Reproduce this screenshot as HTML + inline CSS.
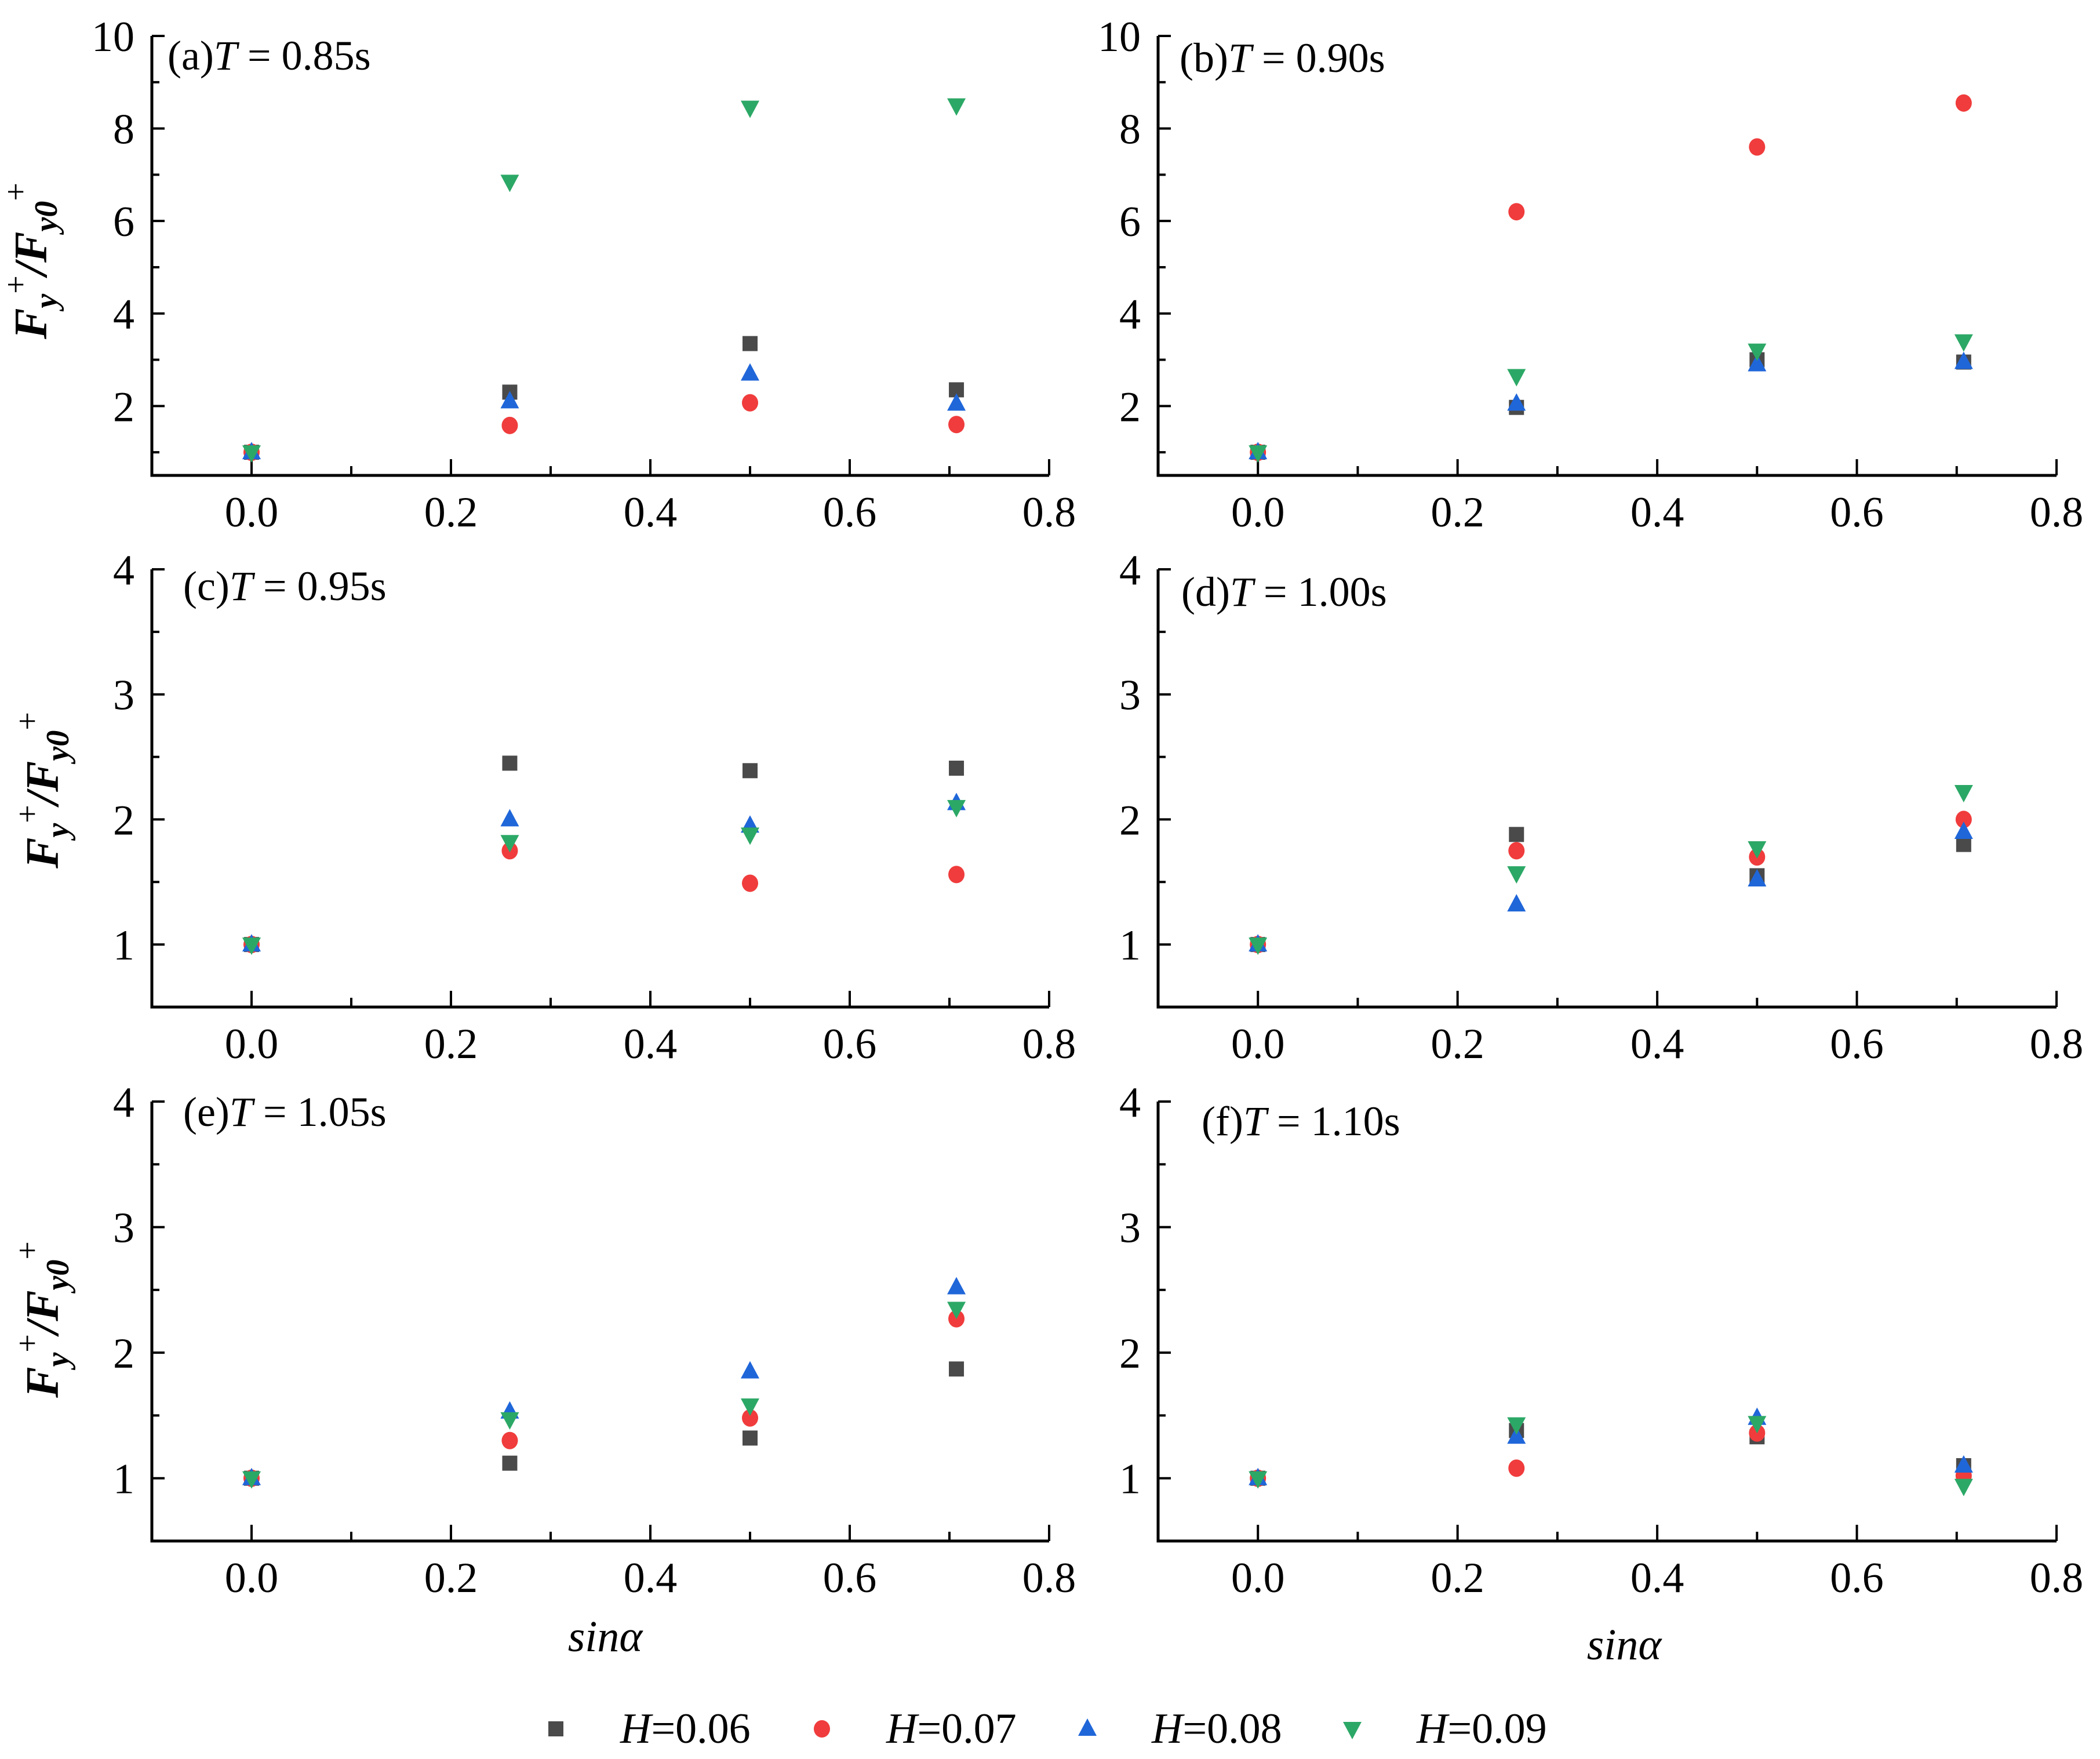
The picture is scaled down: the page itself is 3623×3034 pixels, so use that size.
<!DOCTYPE html>
<html><head><meta charset="utf-8"><style>
html,body{margin:0;padding:0;background:#fff;}
svg{display:block;}
text{font-family:"Liberation Serif","Times New Roman",serif;}
</style></head><body>
<svg id="c" width="3623" height="3034" viewBox="0 0 3623 3034" xmlns="http://www.w3.org/2000/svg"></svg>
<script>
const xVals = [0, 0.259, 0.5, 0.707];
const seriesNames = ["H=0.06","H=0.07","H=0.08","H=0.09"];
const panelTitles = ["(a)","(b)","(c)","(d)","(e)","(f)"];
const panelPeriods = ["0.85s","0.90s","0.95s","1.00s","1.05s","1.10s"];
const xTicks = [0, 0.2, 0.4, 0.6, 0.8];
const xTickLabels = ["0.0","0.2","0.4","0.6","0.8"];
const yTicksTop = [2,4,6,8,10];
const yTicksLow = [1,2,3,4];
const pA = [[1,2.3,3.35,2.35],[1,1.58,2.07,1.6],[1,2.1,2.7,2.05],[1,6.85,8.45,8.5]];
const pB = [[1,1.97,3.0,2.95],[1,6.2,7.6,8.55],[1,2.05,2.9,2.95],[1,2.65,3.2,3.4]];
const pC = [[1,2.45,2.39,2.41],[1,1.75,1.49,1.56],[1,2.0,1.95,2.13],[1,1.82,1.88,2.1]];
const pD = [[1,1.88,1.55,1.8],[1,1.75,1.7,2.0],[1,1.32,1.52,1.9],[1,1.57,1.77,2.22]];
const pE = [[1,1.12,1.32,1.87],[1,1.3,1.48,2.27],[1,1.53,1.85,2.52],[1,1.47,1.58,2.35]];
const pF = [[1,1.38,1.33,1.1],[1,1.08,1.36,1.02],[1,1.33,1.48,1.1],[1,1.43,1.44,0.94]];
const panelData = [pA,pB,pC,pD,pE,pF];

const NS="http://www.w3.org/2000/svg";
const svg=document.getElementById('c');
const colors=["#4a4a4a","#f03c3c","#1f66d9","#2ca866"];
function mk(tag,attrs,parent){const e=document.createElementNS(NS,tag);for(const k in attrs)e.setAttribute(k,attrs[k]);(parent||svg).appendChild(e);return e;}
function marker(g,type,cx,cy){
  let e;
  if(type===0){e=mk('rect',{x:cx-13,y:cy-13,width:26,height:26,fill:colors[0]},g);}
  else if(type===1){e=mk('ellipse',{cx:cx,cy:cy,rx:14,ry:15,fill:colors[1]},g);}
  else if(type===2){e=mk('polygon',{points:`${cx},${cy-18} ${cx+16},${cy+12} ${cx-16},${cy+12}`,fill:colors[2]},g);}
  else {e=mk('polygon',{points:`${cx},${cy+18} ${cx+16},${cy-12} ${cx-16},${cy-12}`,fill:colors[3]},g);}
  return e;
}
const cols=[{l:262,r:1810},{l:1998,r:3548}];
const rows=[{t:62,b:820,ymax:10,ymin:0.5,ticks:yTicksTop,minor:2},{t:982,b:1737,ymax:4,ymin:0.5,ticks:yTicksLow,minor:1},{t:1900,b:2658,ymax:4,ymin:0.5,ticks:yTicksLow,minor:1}];
const titlePos=[[289,120],[2035,124],[316,1035],[2038,1045],[316,1942],[2073,1958]];

panelData.forEach((data,pi)=>{
  const c=cols[pi%2], r=rows[Math.floor(pi/2)];
  const g=mk('g',{});
  
  
  const X=v=>c.l+(v+0.1)/0.9*(c.r-c.l);
  const Y=v=>r.b-(v-r.ymin)/(r.ymax-r.ymin)*(r.b-r.t);
  const ax=mk('path',{d:`M${c.l},${r.t} L${c.l},${r.b} L${c.r},${r.b}`,stroke:'#000','stroke-width':5,fill:'none'},g);
  
  for(let i=-1;i<=8;i++){
    const v=i/10;
    const major=(i%2===0);
    mk('line',{x1:X(v),x2:X(v),y1:r.b,y2:r.b-(major?28:16),stroke:'#000','stroke-width':4},g);
  }
  xTicks.forEach((v,i)=>{
    const t=mk('text',{x:X(v),y:r.b+88,'font-size':74,'text-anchor':'middle'},g);
    t.textContent=xTickLabels[i];
    
  });
  const half=r.minor/2;
  for(let k=Math.ceil(r.ymin/half);k*half<=r.ymax+0.001;k++){
    const v=k*half;
    const major=(k%2===0);
    mk('line',{x1:c.l,x2:c.l+(major?22:13),y1:Y(v),y2:Y(v),stroke:'#000','stroke-width':4},g);
  }
  r.ticks.forEach(v=>{
    const t=mk('text',{x:c.l-30,y:Y(v)+26,'font-size':74,'text-anchor':'end'},g);
    t.textContent=String(v);
    
  });
  const tt=mk('text',{x:titlePos[pi][0],y:titlePos[pi][1],'font-size':72},g);
  
  const s1=mk('tspan',{},tt);s1.textContent=panelTitles[pi];
  const s2=mk('tspan',{'font-style':'italic'},tt);s2.textContent='T';
  const s3=mk('tspan',{},tt);s3.textContent=' = '+panelPeriods[pi];
  data.forEach((ser,si)=>{
    ser.forEach((v,k)=>{
      const m=marker(g,si,X(xVals[k]),Y(v));
      
      
    });
  });
});
[450,1363,2276].forEach((cy,i)=>{
  const t=mk('text',{transform:`translate(${i===0?80:100},${cy}) rotate(-90)`,'font-size':80,'text-anchor':'middle','font-weight':'bold','font-style':'italic'});
  
  t.innerHTML='F<tspan dy="18" font-size="56">y</tspan><tspan dy="-52" font-size="56" font-weight="normal" font-style="normal">+</tspan><tspan dy="34">/F</tspan><tspan dy="18" font-size="56">y0</tspan><tspan dy="-52" font-size="56" font-weight="normal" font-style="normal">+</tspan>';
});
[[1044,2848],[2802,2862]].forEach(p=>{
  const t=mk('text',{x:p[0],y:p[1],'font-size':76,'font-style':'italic','text-anchor':'middle'});
  t.textContent='sinα';
  
});
const lgM=[959,1418,1876,2333], lgT=[1070,1529,1987,2444];
seriesNames.forEach((n,i)=>{
  const g=mk('g',{});
  
  marker(g,i,lgM[i],2982);
  const t=mk('text',{x:lgT[i],y:3006,'font-size':74},g);
  t.innerHTML='<tspan font-style="italic">H</tspan>'+n.slice(1);
});
</script>
</body></html>
